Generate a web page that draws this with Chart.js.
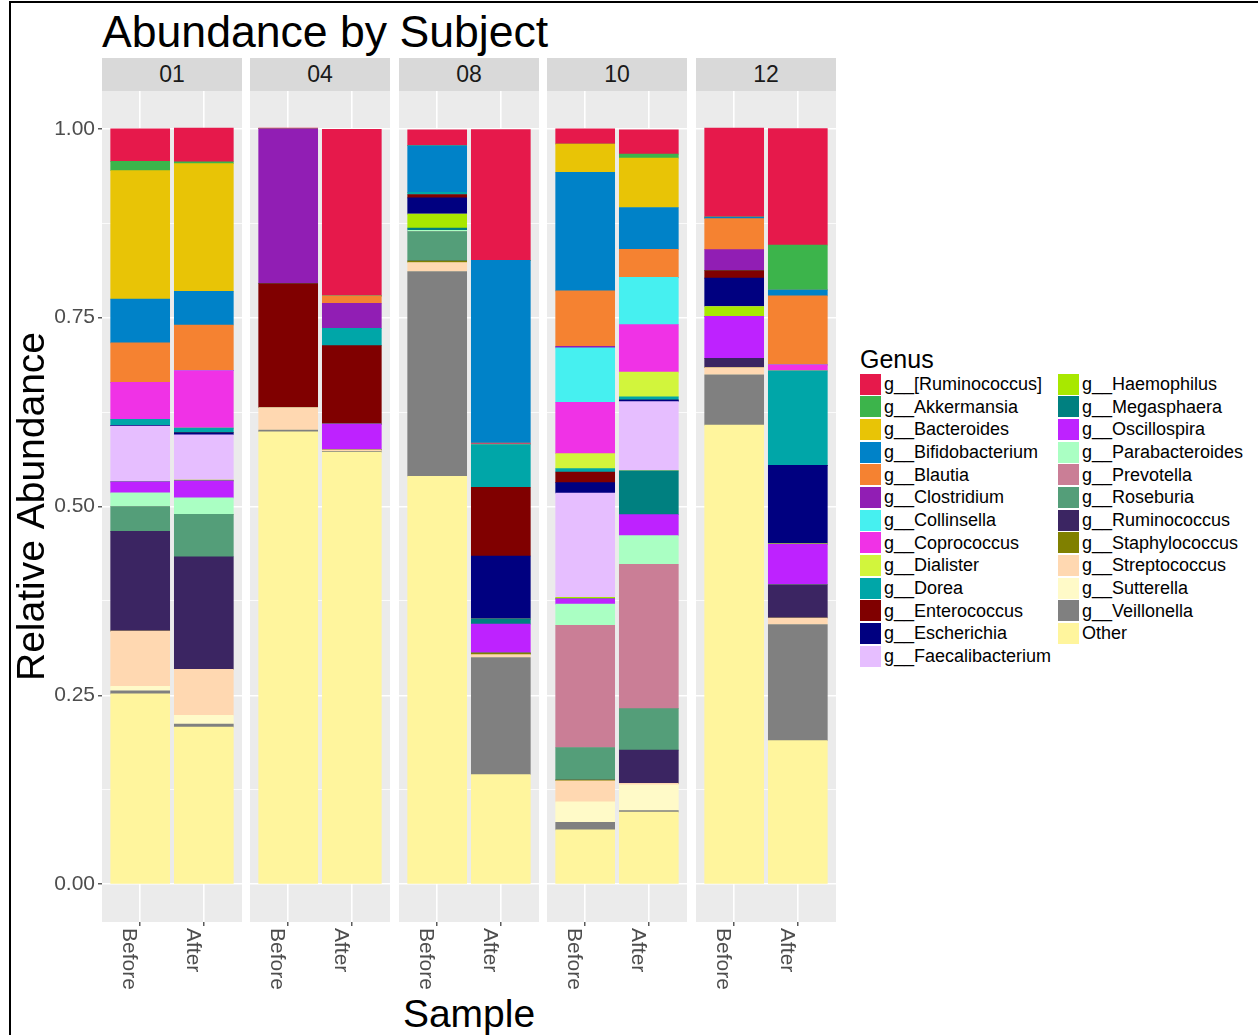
<!DOCTYPE html>
<html>
<head>
<meta charset="utf-8">
<script src="https://cdn.jsdelivr.net/npm/chart.js@4.4.1/dist/chart.umd.min.js"></script>
<style>
  body { margin: 0; background: #fff; font-family: "Liberation Sans", Arial, sans-serif; }
  #page { position: relative; width: 1258px; height: 1035px; overflow: hidden; }
  #frame { position: absolute; left: 9px; top: 1px; width: 1300px; height: 1100px; border-left: 2px solid #000; border-top: 2px solid #000; }
  .abs { position: absolute; }
  .strip { position: absolute; top: 58px; height: 33px; width: 140px; background: #d9d9d9; color: #1a1a1a;
           font-size: 23px; line-height: 33px; text-align: center; }
  .lg-key { position: absolute; width: 21px; height: 21px; }
  .lg-txt { position: absolute; font-size: 18px; height: 22px; line-height: 22px; color: #000; white-space: nowrap; }
</style>
</head>
<body>
<div id="page">
  <div id="frame"></div>
  <div class="abs" style="left:102px;top:9px;font-size:44.6px;line-height:45px;color:#000;">Abundance by Subject</div>
  <div class="abs" style="left:102px;width:734px;top:994px;font-size:39px;line-height:39px;text-align:center;color:#000;">Sample</div>
  <div class="abs" style="left:860px;top:347px;font-size:25px;line-height:25px;color:#000;">Genus</div>
</div>
<script>
const subjects = ['01', '04', '08', '10', '12'];
const sampleLabels = ['Before', 'After'];
const yTicks = [0, 0.125, 0.25, 0.375, 0.5, 0.625, 0.75, 0.875, 1];

const genera = ['g__[Ruminococcus]', 'g__Akkermansia', 'g__Bacteroides', 'g__Bifidobacterium', 'g__Blautia',
  'g__Clostridium', 'g__Collinsella', 'g__Coprococcus', 'g__Dialister', 'g__Dorea', 'g__Enterococcus',
  'g__Escherichia', 'g__Faecalibacterium', 'g__Haemophilus', 'g__Megasphaera', 'g__Oscillospira',
  'g__Parabacteroides', 'g__Prevotella', 'g__Roseburia', 'g__Ruminococcus', 'g__Staphylococcus',
  'g__Streptococcus', 'g__Sutterella', 'g__Veillonella', 'Other'];

const colours = ['#e6194b', '#3cb44b', '#e8c406', '#0082c8', '#f58231', '#911eb4', '#46f0f0', '#f032e6',
  '#d2f53c', '#00a6a8', '#800000', '#000080', '#e6beff', '#a8e800', '#008080', '#be22ff', '#aaffc3',
  '#ca7e96', '#549e79', '#3b2562', '#808000', '#ffd8b1', '#fffac8', '#808080', '#fff59d'];

// values per genus, bars in order 01 Before, 01 After, 04 Before, 04 After, ... 12 After
const ruminococcusBr  = [0.043, 0.0445, 0.001, 0.2206, 0.021, 0.173, 0.020, 0.0322, 0.118, 0.1542];
const akkermansia     = [0.0123, 0.0026, 0, 0, 0, 0, 0, 0.0053, 0, 0.0594];
const bacteroides     = [0.170, 0.169, 0, 0, 0, 0, 0.0375, 0.0654, 0, 0];
const bifidobacterium = [0.058, 0.0446, 0, 0, 0.0617, 0.242, 0.157, 0.0555, 0.002, 0.0079];
const blautia         = [0.052, 0.0604, 0, 0.0097, 0, 0.001, 0.0735, 0.037, 0.041, 0.0915];
const clostridium     = [0, 0, 0.205, 0.033, 0, 0.001, 0.002, 0, 0.0277, 0];
const collinsella     = [0, 0, 0, 0, 0, 0, 0.072, 0.0625, 0, 0];
const coprococcus     = [0.049, 0.076, 0, 0, 0, 0, 0.068, 0.063, 0, 0.0079];
const dialister       = [0, 0, 0, 0, 0, 0, 0.0198, 0.0326, 0, 0];
const dorea           = [0.008, 0.0062, 0, 0.023, 0.003, 0.0564, 0.0044, 0.0044, 0, 0.125];
const enterococcus    = [0, 0, 0.164, 0.104, 0.0045, 0.091, 0.014, 0, 0.010, 0];
const escherichia     = [0.001, 0.0026, 0, 0, 0.0215, 0.0836, 0.014, 0.002, 0.0378, 0.1034];
const faecalibact     = [0.074, 0.060, 0, 0, 0, 0, 0.138, 0.0916, 0, 0];
const haemophilus     = [0, 0.001, 0, 0, 0.0185, 0, 0.002, 0, 0.0128, 0.001];
const megasphaera     = [0, 0, 0, 0, 0.003, 0.0066, 0, 0.058, 0, 0];
const oscillospira    = [0.0145, 0.0225, 0, 0.034, 0, 0.0383, 0.007, 0.0277, 0.0555, 0.0537];
const parabacteroides = [0.018, 0.022, 0, 0, 0.0015, 0, 0.028, 0.038, 0, 0];
const prevotella      = [0, 0, 0, 0, 0, 0, 0.1617, 0.191, 0, 0];
const roseburia       = [0.033, 0.056, 0, 0, 0.039, 0, 0.043, 0.055, 0, 0];
const ruminococcus    = [0.132, 0.149, 0, 0, 0, 0, 0, 0.044, 0.0123, 0.044];
const staphylococcus  = [0, 0, 0, 0, 0.002, 0.002, 0.001, 0, 0, 0];
const streptococcus   = [0.073, 0.061, 0.030, 0.002, 0.012, 0.004, 0.028, 0.002, 0.0097, 0.0088];
const sutterella      = [0.006, 0.0115, 0, 0, 0, 0, 0.027, 0.034, 0, 0];
const veillonella     = [0.004, 0.004, 0.002, 0.001, 0.271, 0.155, 0.010, 0.002, 0.0665, 0.1536];
const other           = [0.252, 0.208, 0.599, 0.572, 0.540, 0.145, 0.072, 0.0955, 0.6077, 0.190];

const seriesValues = [ruminococcusBr, akkermansia, bacteroides, bifidobacterium, blautia, clostridium,
  collinsella, coprococcus, dialister, dorea, enterococcus, escherichia, faecalibact, haemophilus,
  megasphaera, oscillospira, parabacteroides, prevotella, roseburia, ruminococcus, staphylococcus,
  streptococcus, sutterella, veillonella, other];

Chart.defaults.font.family = '"Liberation Sans", Arial, sans-serif';

const page = document.getElementById('page');
const panelLefts = [102, 250, 399, 547, 696];
const PANEL_W = 140, PANEL_H = 831, PAD_TOP = 20, X_AXIS_H = 80, Y_AXIS_W = 102;

const isMajor = v => Math.abs(v * 4 - Math.round(v * 4)) < 1e-9;

const panelBg = {
  id: 'panelBg',
  beforeDraw(chart) {
    const a = chart.chartArea, ctx = chart.ctx;
    ctx.save();
    ctx.fillStyle = '#ebebeb';
    ctx.fillRect(a.left, a.top, a.right - a.left, a.bottom - a.top);
    ctx.restore();
  }
};

const xLabels = {
  id: 'xLabels',
  afterDraw(chart) {
    const ctx = chart.ctx, xs = chart.scales.x;
    sampleLabels.forEach((t, k) => {
      const px = xs.getPixelForValue(k + 1);
      ctx.save();
      ctx.translate(px - 1, chart.chartArea.bottom + 6);
      ctx.rotate(Math.PI / 2);
      ctx.font = '21px "Liberation Sans", Arial, sans-serif';
      ctx.fillStyle = '#4d4d4d';
      ctx.textAlign = 'left';
      ctx.textBaseline = 'top';
      ctx.fillText(t, 0, 0);
      ctx.restore();
    });
  }
};

subjects.forEach((subj, i) => {
  const first = i === 0;
  const left = first ? 0 : panelLefts[i];
  const w = first ? panelLefts[0] + PANEL_W : PANEL_W;
  const h = PAD_TOP + PANEL_H + X_AXIS_H;

  const strip = document.createElement('div');
  strip.className = 'strip';
  strip.style.left = panelLefts[i] + 'px';
  strip.textContent = subj;
  page.appendChild(strip);

  const canvas = document.createElement('canvas');
  canvas.width = w; canvas.height = h;
  canvas.style.cssText = `position:absolute;left:${left}px;top:${91 - PAD_TOP}px;width:${w}px;height:${h}px;`;
  page.appendChild(canvas);

  const datasets = [];
  for (let g = genera.length - 1; g >= 0; g--) {
    const vals = seriesValues[g];
    datasets.push({
      label: genera[g],
      data: [{ x: 1, y: vals[2 * i] }, { x: 2, y: vals[2 * i + 1] }],
      backgroundColor: colours[g],
      borderWidth: 0,
      barThickness: 59
    });
  }

  new Chart(canvas.getContext('2d'), {
    type: 'bar',
    data: { datasets: datasets },
    plugins: [panelBg, xLabels],
    options: {
      responsive: false,
      animation: false,
      events: [],
      layout: { padding: { top: PAD_TOP, left: 0, right: 0, bottom: 0 } },
      plugins: { legend: { display: false }, tooltip: { enabled: false } },
      scales: {
        x: {
          type: 'linear', stacked: true, min: 0.4, max: 2.6, offset: false,
          afterBuildTicks: s => { s.ticks = [{ value: 1 }, { value: 2 }]; },
          afterFit: s => { s.height = X_AXIS_H; },
          ticks: { display: false },
          border: { display: false },
          grid: { offset: false, color: '#ffffff', lineWidth: 1.6, tickLength: 4, tickColor: '#333333', tickWidth: 1.2 }
        },
        y: {
          stacked: true, min: -0.05, max: 1.05,
          afterBuildTicks: s => { s.ticks = yTicks.map(v => ({ value: v })); },
          afterFit: s => { s.width = first ? Y_AXIS_W : 0; },
          border: { display: false },
          title: {
            display: first, text: 'Relative Abundance', color: '#000',
            font: { size: 39 }, padding: { top: 10, bottom: 0 }
          },
          ticks: {
            display: first, color: '#4d4d4d', font: { size: 21 }, padding: 3,
            callback: v => (isMajor(v) ? v.toFixed(2) : '')
          },
          grid: {
            color: '#ffffff',
            lineWidth: c => (c.tick && isMajor(c.tick.value) ? 1.6 : 0.8),
            drawTicks: first,
            tickLength: 4,
            tickWidth: 1.2,
            tickColor: c => (c.tick && isMajor(c.tick.value) ? '#333333' : 'rgba(0,0,0,0)')
          }
        }
      }
    }
  });
});

// legend, two columns of genus keys
genera.forEach((g, i) => {
  const col = i < 13 ? 0 : 1;
  const row = col === 0 ? i : i - 13;
  const cy = 384 + row * 22.67;
  const keyX = col === 0 ? 860 : 1058;
  const key = document.createElement('div');
  key.className = 'lg-key';
  key.style.left = keyX + 'px';
  key.style.top = (cy - 10.5) + 'px';
  key.style.background = colours[i];
  page.appendChild(key);
  const txt = document.createElement('div');
  txt.className = 'lg-txt';
  txt.style.left = (keyX + 24) + 'px';
  txt.style.top = (cy - 11) + 'px';
  txt.textContent = g;
  page.appendChild(txt);
});
</script>
</body>
</html>
